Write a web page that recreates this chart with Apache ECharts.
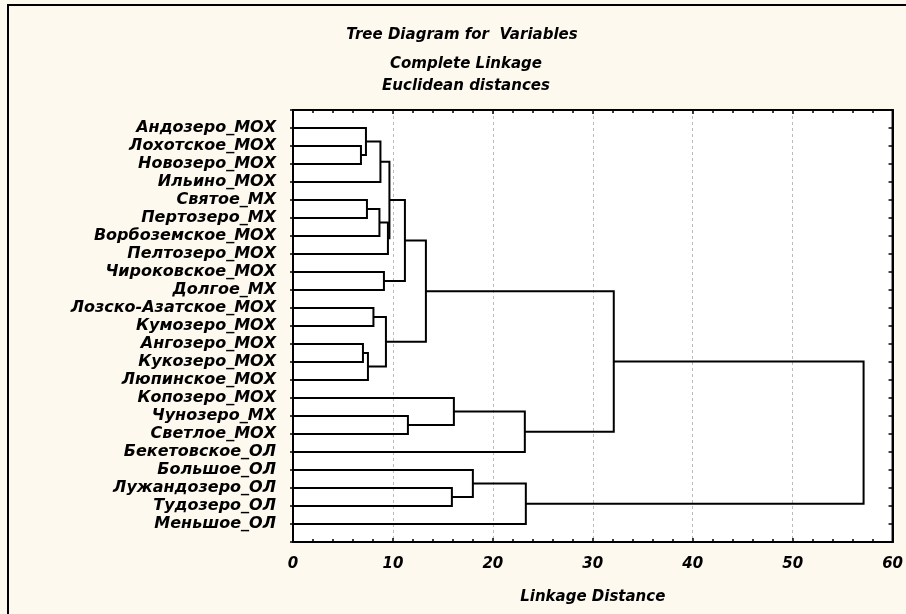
<!DOCTYPE html>
<html>
<head>
<meta charset="utf-8">
<script src="https://cdn.jsdelivr.net/npm/echarts@6/dist/echarts.min.js"></script>
<style>
html,body{margin:0;padding:0;background:#FEF9EE;overflow:hidden;}
#main{width:906px;height:614px;}
</style>
</head>
<body>
<div id="main"></div>
<script>
// Leaf order (top to bottom)
const leafNames = [
  'Андозеро_МОХ','Лохотское_МОХ','Новозеро_МОХ','Ильино_МОХ','Святое_МХ',
  'Пертозеро_МХ','Ворбоземское_МОХ','Пелтозеро_МОХ','Чироковское_МОХ','Долгое_МХ',
  'Лозско-Азатское_МОХ','Кумозеро_МОХ','Ангозеро_МОХ','Кукозеро_МОХ','Люпинское_МОХ',
  'Копозеро_МОХ','Чунозеро_МХ','Светлое_МОХ','Бекетовское_ОЛ','Большое_ОЛ',
  'Лужандозеро_ОЛ','Тудозеро_ОЛ','Меньшое_ОЛ'
];
// Merges: clusters 0..22 are leaves, merge k creates cluster 23+k
const mergeLeft   = [1, 0, 24, 4, 26, 27, 25, 8, 29, 10, 12, 33, 32, 31, 16, 15, 38, 36, 20, 19, 42, 40];
const mergeRight  = [2, 23, 3, 5, 6, 7, 28, 9, 30, 11, 13, 14, 34, 35, 17, 37, 18, 39, 21, 41, 22, 43];
const mergeHeight = [6.8, 7.3, 8.75, 7.4, 8.65, 9.5, 9.65, 9.1, 11.2, 8.05, 7.0, 7.5, 9.3, 13.3, 11.5, 16.1, 23.2, 32.1, 15.9, 18.0, 23.3, 57.1];
const xTickLabels = ['0','10','20','30','40','50','60'];

// Build node positions
const nodeH = [], nodeY = [];
leafNames.forEach((n, i) => { nodeH.push(0); nodeY.push(i); });
const linkData = [];
for (let k = 0; k < mergeLeft.length; k++) {
  const a = mergeLeft[k], b = mergeRight[k], h = mergeHeight[k];
  linkData.push([nodeH[a], nodeY[a], nodeH[b], nodeY[b], h]);
  nodeH.push(h);
  nodeY.push((nodeY[a] + nodeY[b]) / 2);
}

const FONT = '"DejaVu Sans", "Liberation Sans", Arial, sans-serif';
const txt = (size) => ({fontFamily: FONT, fontSize: size, fontWeight: 'bold', fontStyle: 'italic', color: '#000'});
const chart = echarts.init(document.getElementById('main'));
chart.setOption({
  backgroundColor: '#FEF9EE',
  animation: false,
  title: [
    {text: 'Tree Diagram for  Variables', left: 457, top: 23, textAlign: 'center', textStyle: txt(15)},
    {text: 'Complete Linkage', left: 461, top: 52, textAlign: 'center', textStyle: txt(15)},
    {text: 'Euclidean distances', left: 461, top: 74, textAlign: 'center', textStyle: txt(15)}
  ],
  graphic: [
    {type: 'polyline', shape: {points: [[8, 614], [8, 5], [906, 5]]}, silent: true, z: -10,
     style: {fill: 'none', stroke: '#000', lineWidth: 2}}
  ],
  grid: {left: 293, right: 9, top: 110, bottom: 72, show: true, backgroundColor: '#fff',
         borderColor: '#000', borderWidth: 2},
  xAxis: [
    {type: 'value', min: 0, max: 60, interval: 10, position: 'bottom',
     name: 'Linkage Distance', nameLocation: 'middle', nameGap: 48,
     nameTextStyle: txt(15),
     axisLine: {show: true, onZero: false, lineStyle: {color: '#000', width: 2}},
     axisTick: {show: true, inside: true, length: 4, lineStyle: {color: '#000', width: 1.5}},
     minorTick: {show: true, splitNumber: 5, length: 3, lineStyle: {color: '#000', width: 1.5}},
     axisLabel: Object.assign({margin: 15, formatter: (v) => xTickLabels[Math.round(v / 10)] || ''}, txt(15)),
     splitLine: {show: true, lineStyle: {color: '#bbb', type: [3, 3], width: 1}}},
    {type: 'value', min: 0, max: 60, interval: 10, position: 'top',
     axisLine: {show: true, onZero: false, lineStyle: {color: '#000', width: 2}},
     axisTick: {show: true, inside: true, length: 4, lineStyle: {color: '#000', width: 1.5}},
     minorTick: {show: true, splitNumber: 5, length: 3, lineStyle: {color: '#000', width: 1.5}},
     axisLabel: {show: false}, splitLine: {show: false}}
  ],
  yAxis: [
    {type: 'value', min: -1, max: 23, interval: 1, inverse: true, position: 'left',
     axisLine: {show: true, onZero: false, lineStyle: {color: '#000', width: 2}},
     axisTick: {show: true, inside: false, length: 3, lineStyle: {color: '#000', width: 1.5}},
     axisLabel: Object.assign({margin: 17,
       formatter: (v) => (v >= 0 && v < leafNames.length) ? leafNames[v] : ''}, txt(16)),
     splitLine: {show: false}},
    {type: 'value', min: -1, max: 23, interval: 1, inverse: true, position: 'right',
     axisLine: {show: true, onZero: false, lineStyle: {color: '#000', width: 2}},
     axisTick: {show: true, inside: true, length: 4, lineStyle: {color: '#000', width: 1.5}},
     axisLabel: {show: false}, splitLine: {show: false}}
  ],
  series: [{
    type: 'custom',
    xAxisIndex: 0, yAxisIndex: 0,
    data: linkData,
    clip: false,
    renderItem: function (params, api) {
      const p1 = api.coord([api.value(0), api.value(1)]);
      const p2 = api.coord([api.value(4), api.value(1)]);
      const p3 = api.coord([api.value(4), api.value(3)]);
      const p4 = api.coord([api.value(2), api.value(3)]);
      return {
        type: 'polyline',
        shape: {points: [p1, p2, p3, p4]},
        style: {stroke: '#000', lineWidth: 2, fill: 'none'}
      };
    },
    encode: {x: [0, 2, 4], y: [1, 3]},
    z: 5
  }]
});
</script>
</body>
</html>
